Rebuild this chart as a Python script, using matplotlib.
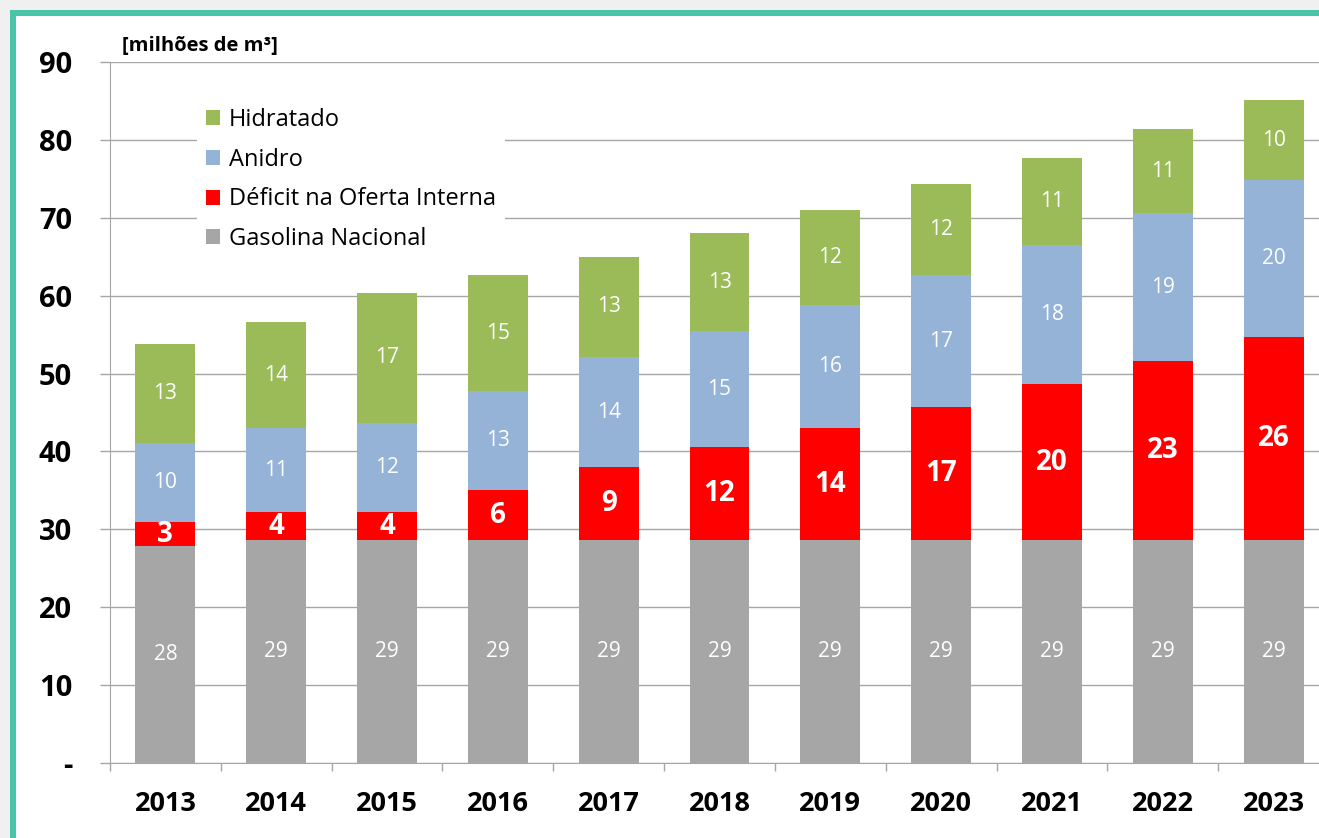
import matplotlib
matplotlib.use("Agg")
import matplotlib.pyplot as plt
from matplotlib.patches import Rectangle, Patch
import numpy as np

plt.rcParams['font.family'] = ['Open Sans', 'DejaVu Sans']

years = ['2013', '2014', '2015', '2016', '2017', '2018', '2019', '2020', '2021', '2022', '2023']
gasolina = [27.9, 28.6, 28.6, 28.6, 28.6, 28.6, 28.6, 28.6, 28.6, 28.6, 28.6]
deficit = [3.0, 3.6, 3.6, 6.4, 9.4, 12.0, 14.4, 17.1, 20.0, 23.0, 26.1]
anidro = [10.2, 10.8, 11.5, 12.7, 14.1, 14.8, 15.8, 16.9, 17.9, 19.0, 20.1]
hidratado = [12.7, 13.6, 16.6, 14.9, 12.9, 12.6, 12.2, 11.7, 11.2, 10.8, 10.3]

series_names = ['Gasolina Nacional', 'Déficit na Oferta Interna', 'Anidro', 'Hidratado']
colors = ['#a6a6a6', '#ff0000', '#95b3d7', '#9bbb59']
yticks = [0, 10, 20, 30, 40, 50, 60, 70, 80, 90]
ytick_labels = ['-', '10', '20', '30', '40', '50', '60', '70', '80', '90']

W, H = 1319, 838
fig = plt.figure(figsize=(W / 100, H / 100), dpi=100)
fig.patch.set_facecolor('#f0f0f0')
# frame
fig.patches.append(Rectangle((10 / W, -0.1), 1.2, 1 - 10 / H + 0.1, transform=fig.transFigure,
                             facecolor='#48c4a6', edgecolor='none', zorder=-2))
fig.patches.append(Rectangle((16 / W, -0.1), 1.2, 1 - 16 / H + 0.1, transform=fig.transFigure,
                             facecolor='white', edgecolor='none', zorder=-1))

left = 110 / W
right = 1329 / W
bottom = 1 - 763 / H
top = 1 - 62 / H
ax = fig.add_axes([left, bottom, right - left, top - bottom])
ax.set_facecolor('none')

x = np.arange(len(years))
width = 0.54
data = [gasolina, deficit, anidro, hidratado]
base = np.zeros(len(years))
containers = []
for vals, col, name in zip(data, colors, series_names):
    c = ax.bar(x, vals, width, bottom=base, color=col, label=name, zorder=3)
    containers.append(c)
    base = base + np.array(vals)

for i, c in enumerate(containers):
    if i == 1:
        ax.bar_label(c, fmt='{:.0f}', label_type='center', color='white',
                     fontsize=20, fontweight='bold', zorder=4)
    else:
        ax.bar_label(c, fmt='{:.0f}', label_type='center', color='white',
                     fontsize=15, zorder=4)

ax.set_xlim(-0.5, len(years) - 0.5)
ax.set_ylim(0, 90)
ax.set_yticks(yticks)
ax.set_yticklabels(ytick_labels, fontsize=21, fontweight='bold')
ax.tick_params(axis='y', length=7.2, width=1, color='#a6a6a6', pad=20)
ax.grid(axis='y', color='#a6a6a6', linewidth=1, zorder=0)
ax.set_axisbelow(True)

ax.set_xticks(x)
ax.set_xticklabels(years, fontsize=19.5, fontweight='bold')
ax.tick_params(axis='x', which='major', length=0, pad=20)
ax.set_xticks(np.arange(-0.5, len(years) + 0.5, 1), minor=True)
ax.tick_params(axis='x', which='minor', length=6, width=1, color='#a6a6a6', direction='out')

for s in ['top', 'right']:
    ax.spines[s].set_visible(False)
ax.spines['left'].set_color('#a6a6a6')
ax.spines['bottom'].set_color('#a6a6a6')

fig.text(122 / W, 1 - 46 / H, '[milhões de m³]', fontsize=14.5, fontweight='bold',
         ha='left', va='center')

handles = [Patch(facecolor=colors[i], edgecolor='none', label=series_names[i]) for i in [3, 2, 1, 0]]
leg = ax.legend(handles=handles, loc='upper left', bbox_to_anchor=(185 / W, 1 - 87 / H),
                bbox_transform=fig.transFigure, fontsize=17, frameon=True, fancybox=False,
                edgecolor='none', facecolor='white', framealpha=1, handlelength=0.6,
                handleheight=0.6, handletextpad=0.35, labelspacing=0.66, borderpad=0.4)
leg.set_zorder(5)

fig.savefig('out.png', dpi=100, facecolor=fig.get_facecolor())
